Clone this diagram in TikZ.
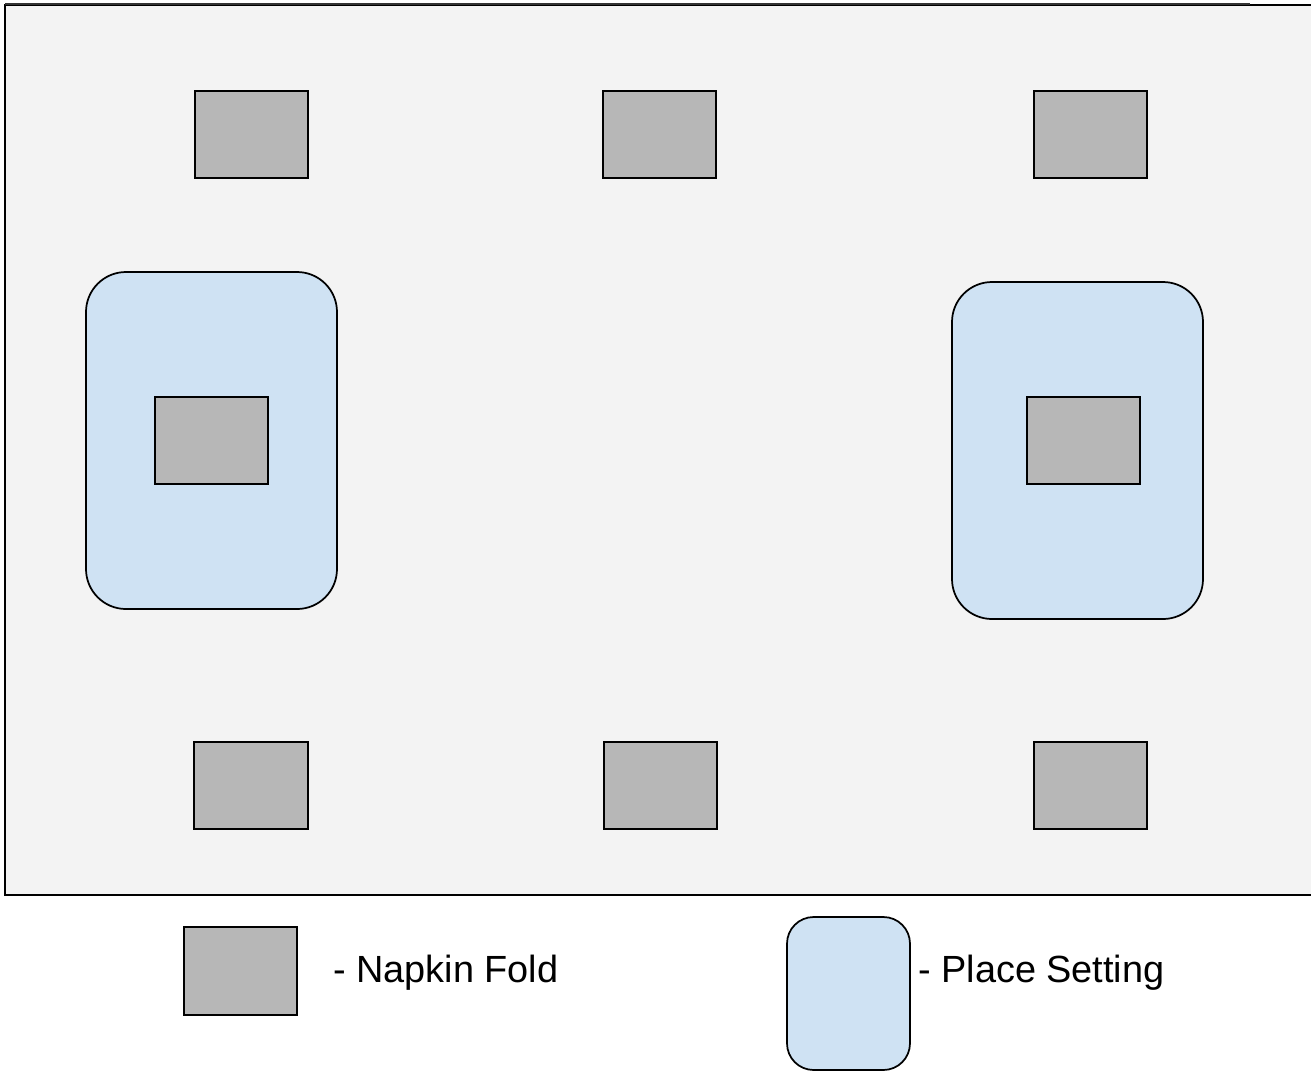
\documentclass[tikz,border=0pt]{standalone}
\usepackage{fontspec}
\setmainfont{Liberation Sans}
\begin{document}
\begin{tikzpicture}[x=0.75pt,y=-0.75pt,
  napkin/.style={draw=black,fill=napkingray,line width=1.6pt},
  placeset/.style={draw=black,fill=placeblue,line width=1.3pt,rounded corners=30pt},
  legtext/.style={anchor=west,inner sep=0pt,font=\fontsize{28.4}{32}\selectfont}]
\definecolor{napkingray}{HTML}{B7B7B7}
\definecolor{placeblue}{HTML}{CFE2F3}
\definecolor{tablegray}{HTML}{F3F3F3}
\useasboundingbox (0,0) rectangle (1311,1072);
% table
\fill[tablegray] (5,5) rectangle (1311,895);
\draw[line width=1.7pt] (1311,5) -- (5,5) -- (5,895) -- (1311,895);
\draw[line width=1.5pt,draw=black!80] (5,3.5) -- (1250,3.5);
% place settings
\draw[placeset] (86,272) rectangle (337,609);
\draw[placeset] (952,282) rectangle (1203,619);
% napkins
\draw[napkin] (195,91) rectangle (308,178);
\draw[napkin] (603,91) rectangle (716,178);
\draw[napkin] (1034,91) rectangle (1147,178);
\draw[napkin] (155,397) rectangle (268,484);
\draw[napkin] (1027,397) rectangle (1140,484);
\draw[napkin] (194,742) rectangle (308,829);
\draw[napkin] (604,742) rectangle (717,829);
\draw[napkin] (1034,742) rectangle (1147,829);
% legend
\draw[napkin] (184,927) rectangle (297,1015);
\node[legtext] (lnap) at (333,973) {- Napkin Fold};
\draw[placeset,rounded corners=20pt] (787,917) rectangle (910,1070);
\node[legtext] (lplace) at (918,973) {- Place Setting};
\end{tikzpicture}
\end{document}
